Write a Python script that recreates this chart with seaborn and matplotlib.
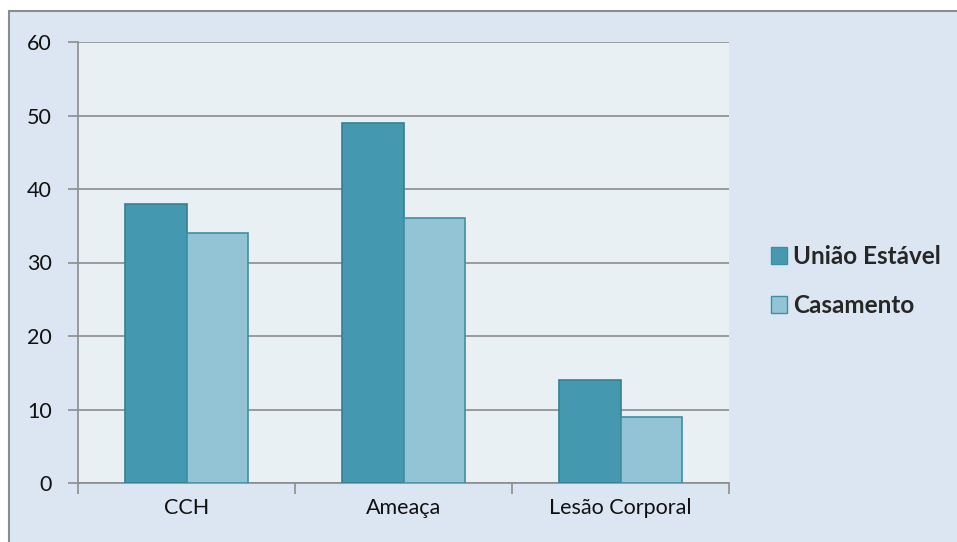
import matplotlib
matplotlib.use("Agg")
import matplotlib.pyplot as plt
from matplotlib.patches import Rectangle
import seaborn as sns
import pandas as pd

categories = ["CCH", "Ameaça", "Lesão Corporal"]
series_names = ["União Estável", "Casamento"]
uniao_estavel = [38, 49, 14]
casamento = [34, 36, 9]
y_ticks = [0, 10, 20, 30, 40, 50, 60]

df = pd.DataFrame({
    "categoria": categories * 2,
    "serie": [series_names[0]] * 3 + [series_names[1]] * 3,
    "valor": uniao_estavel + casamento,
})

sns.set_theme(style="white")
plt.rcParams["font.family"] = ["Lato", "DejaVu Sans"]

W, H = 957, 542
fig = plt.figure(figsize=(W / 100, H / 100), dpi=100, facecolor="white")
fig.patches.append(Rectangle((9 / W, -0.05), (W - 9) / W + 0.1, (H - 11) / H + 0.05,
                             transform=fig.transFigure, facecolor="#DCE6F2",
                             edgecolor="#8C8C8C", linewidth=1.5, zorder=-10))

ax = fig.add_axes([78 / W, (H - 483) / H, (729 - 78) / W, (483 - 42) / H])
ax.set_facecolor("#E9F0F4")

palette = {series_names[0]: "#4499B0", series_names[1]: "#93C4D5"}
sns.barplot(data=df, x="categoria", y="valor", hue="serie", order=categories,
            hue_order=series_names, palette=palette, width=0.57, saturation=1,
            ax=ax, zorder=3)
edges = ["#367F93"] * 3 + ["#3F8FA3"] * 3
for p, ec in zip(ax.patches, edges):
    p.set_edgecolor(ec)
    p.set_linewidth(1.2)

ax.set_ylim(0, 60)
ax.set_xlim(-0.5, 2.5)
ax.set_yticks(y_ticks)
ax.set_yticklabels([str(t) for t in y_ticks], fontsize=15.5, color="#111111")
ax.yaxis.grid(True, color="#8C8C8C", linewidth=1.2, zorder=0)
ax.set_axisbelow(True)
ax.tick_params(axis="y", length=7, width=1.2, color="#8C8C8C", pad=12, left=True)
ax.set_xticks(range(len(categories)))
ax.set_xticklabels(categories, fontsize=15.5, color="#111111")
ax.set_xticks([-0.5, 0.5, 1.5, 2.5], minor=True)
ax.tick_params(axis="x", which="major", length=0, pad=11)
ax.tick_params(axis="x", which="minor", length=8, width=1.2, color="#8C8C8C", bottom=True)
for s in ["top", "right"]:
    ax.spines[s].set_visible(False)
for s in ["left", "bottom"]:
    ax.spines[s].set_color("#8C8C8C")
    ax.spines[s].set_linewidth(1.2)
ax.set_xlabel("")
ax.set_ylabel("")

handles, labels = ax.get_legend_handles_labels()
ax.legend(handles, labels, loc="center left",
          bbox_to_anchor=(761 / W, 1 - 281 / H), bbox_transform=fig.transFigure,
          frameon=False, prop={"weight": "bold", "size": 17.5},
          handlelength=0.66, handleheight=0.66, handletextpad=0.25,
          labelspacing=1.07, borderaxespad=0)
for h in ax.get_legend().legend_handles:
    h.set_edgecolor("#3F8FA3")

fig.savefig("out.png", dpi=100, facecolor="white")
